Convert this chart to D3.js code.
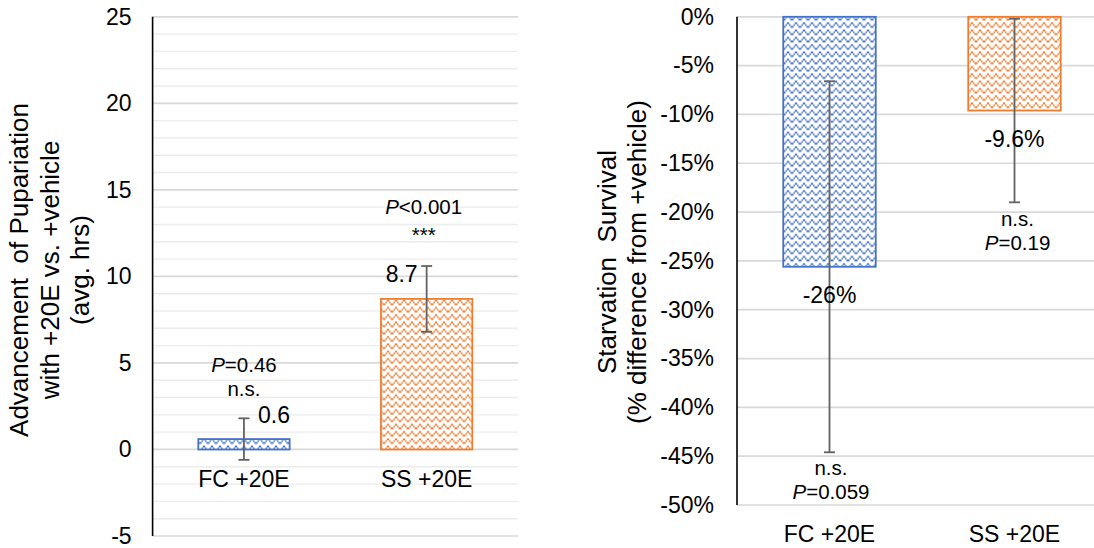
<!DOCTYPE html>
<html><head><meta charset="utf-8">
<script src="https://cdn.jsdelivr.net/npm/d3@7"></script>
<style>body{margin:0;background:#fff;overflow:hidden} text{font-family:"Liberation Sans",Arial,sans-serif;fill:#000;white-space:pre}</style>
</head><body><svg id="c" width="1094" height="548"></svg>
<script>
// ---- data ----
const categories = ["FC +20E", "SS +20E"];
const barColors = ["#4472C4", "#ED7D31"];

const pupTitle = ["Advancement  of Pupariation", "with +20E vs. +vehicle", "(avg. hrs)"];
const pupValues = [0.6, 8.7];
const pupErrors = [1.2, 1.9];
const pupLabels = ["0.6", "8.7"];
const pupTicks = [-5, 0, 5, 10, 15, 20, 25];
const pupMinorTicks = d3.range(-5, 26, 1);
const pupNoteText = [["P=0.46", "n.s."], ["P<0.001", "***"]];
const pupNoteY = [[4.9, 3.5], [14.0, 12.4]];

const survTitle = ["Starvation  Survival", "(% difference from +vehicle)"];
const survValues = [-25.6, -9.6];
const survErrors = [19.0, 9.4];
const survLabels = ["-26%", "-9.6%"];
const survTicks = [0, -5, -10, -15, -20, -25, -30, -35, -40, -45, -50];
const survNoteText = [["n.s.", "P=0.059"], ["n.s.", "P=0.19"]];
const survNoteY = [[-46.2, -48.7], [-20.7, -23.2]];

// ---- drawing ----
const svg = d3.select("#c");
const defs = svg.append("defs");
barColors.forEach((c, i) => {
  const p = defs.append("pattern").attr("id", "wave" + i)
    .attr("patternUnits", "userSpaceOnUse").attr("width", 8).attr("height", 7.3);
  p.append("rect").attr("width", 8).attr("height", 7.3).attr("fill", "#fff");
  [[0,4,1.5],[1.5,2.2,1.3],[2.8,0.4,2.4],[5.2,2.2,1.3],[6.5,4,1.5]].forEach(r => {
    p.append("rect").attr("x", r[0]).attr("y", r[1]).attr("width", r[2]).attr("height", 1.9).attr("fill", c);
  });
});

function writeText(sel, str) {
  if (str.startsWith("P")) {
    sel.append("tspan").attr("font-style", "italic").text("P");
    sel.append("tspan").text(str.slice(1));
  } else sel.text(str);
}

function drawChart(o) {
  const g = svg.append("g");
  const y = d3.scaleLinear().domain(o.domain).range(o.yRange);
  const x = d3.scaleBand().domain(categories).range(o.xRange).paddingInner(0.5).paddingOuter(0.25);
  const x0 = o.xRange[0];

  if (o.minor) {
    g.selectAll(".minor").data(o.minor.filter(v => !o.ticks.includes(v))).join("line")
      .attr("x1", x0).attr("x2", o.gridEnd).attr("y1", d => y(d)).attr("y2", d => y(d))
      .attr("stroke", "#ececec").attr("stroke-width", 1.4);
  }
  g.selectAll(".major").data(o.ticks).join("line")
    .attr("x1", x0).attr("x2", o.gridEnd).attr("y1", d => y(d)).attr("y2", d => y(d))
    .attr("stroke", "#d9d9d9").attr("stroke-width", 1.7);

  const ax = g.append("g").attr("transform", `translate(${x0},0)`)
    .call(d3.axisLeft(y).tickValues(o.ticks).tickSize(0).tickPadding(o.tickPad).tickFormat(o.fmt));
  ax.select(".domain").remove();
  ax.selectAll("text").attr("font-size", 23).attr("font-family", '"Liberation Sans",Arial,sans-serif').attr("fill", "#000");

  g.append("line").attr("x1", x0).attr("x2", x0).attr("y1", o.yRange[1]).attr("y2", o.yRange[0])
    .attr("stroke", "#000").attr("stroke-width", 1.6);

  // bars
  g.selectAll(".bar").data(o.values).join("rect")
    .attr("x", (d, i) => x(categories[i]))
    .attr("width", x.bandwidth())
    .attr("y", d => y(Math.max(0, d)))
    .attr("height", d => Math.abs(y(d) - y(0)))
    .attr("fill", (d, i) => `url(#wave${i})`)
    .attr("stroke", (d, i) => barColors[i]).attr("stroke-width", 1.8);

  // error bars
  o.values.forEach((v, i) => {
    const cx = x(categories[i]) + x.bandwidth() / 2;
    const e = o.errors[i];
    const eg = g.append("g").attr("stroke", "#636363").attr("stroke-width", 1.8);
    eg.append("line").attr("x1", cx).attr("x2", cx).attr("y1", y(v + e)).attr("y2", y(v - e));
    [v + e, v - e].forEach(w => eg.append("line").attr("x1", cx - 5.5).attr("x2", cx + 5.5).attr("y1", y(w)).attr("y2", y(w)));
  });

  // value labels
  o.values.forEach((v, i) => {
    const cx = x(categories[i]) + x.bandwidth() / 2 + o.labelDx[i];
    const ly = y(v) + (v >= 0 ? -o.labelGap : o.labelGap);
    g.append("text").attr("x", cx).attr("y", ly).attr("dy", "0.35em").attr("text-anchor", "middle")
      .attr("font-size", 23).text(o.labels[i]);
  });

  // notes
  o.notes.forEach((lines, i) => {
    const cx = x(categories[i]) + x.bandwidth() / 2 + o.noteDx[i];
    lines.forEach((s, j) => {
      const t = g.append("text").attr("x", cx).attr("y", y(o.noteY[i][j])).attr("dy", "0.35em")
        .attr("text-anchor", "middle").attr("font-size", 20.5);
      writeText(t, s);
    });
  });

  // category labels
  categories.forEach(c => {
    g.append("text").attr("x", x(c) + x.bandwidth() / 2).attr("y", y(o.catAt) + 29).attr("dy", "0.35em")
      .attr("text-anchor", "middle").attr("font-size", 23).text(c);
  });

  // title
  o.title.forEach((s, j) => {
    g.append("text").attr("transform", `translate(${o.titleX[j]},${o.titleY}) rotate(-90)`)
      .attr("text-anchor", "middle").attr("font-size", 26).text(s);
  });
}

drawChart({
  domain: [-5, 25], yRange: [536, 16.8], xRange: [152.6, 518], gridEnd: 518,
  ticks: pupTicks, minor: pupMinorTicks, tickPad: 21, fmt: d => d,
  values: pupValues, errors: pupErrors, labels: pupLabels, labelDx: [30, -25], labelGap: 24.5,
  notes: pupNoteText, noteY: pupNoteY, noteDx: [0, -3], catAt: 0,
  title: pupTitle, titleX: [28, 59, 89], titleY: 270
});

drawChart({
  domain: [-50, 0], yRange: [505, 16.8], xRange: [737, 1107], gridEnd: 1107,
  ticks: survTicks, minor: null, tickPad: 23, fmt: d => d + "%",
  values: survValues, errors: survErrors, labels: survLabels, labelDx: [0, 0], labelGap: 28,
  notes: survNoteText, noteY: survNoteY, noteDx: [1.5, 3], catAt: -50,
  title: survTitle, titleX: [616, 646], titleY: 262
});
</script></body></html>
